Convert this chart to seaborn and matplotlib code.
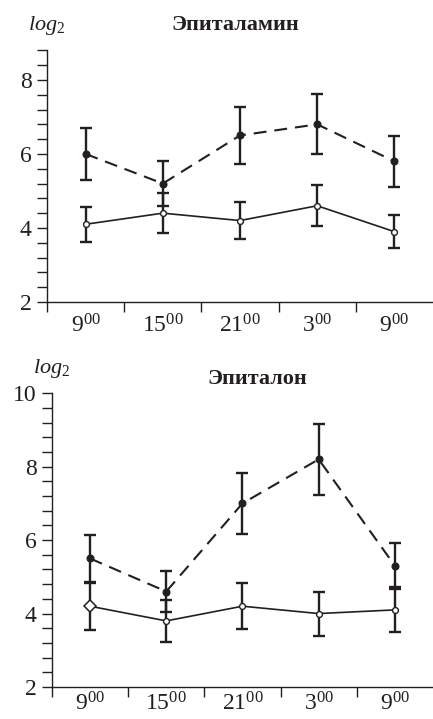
#!/usr/bin/env python3
# epitalamin / epitalon daily log2 profile

import matplotlib
matplotlib.use('Agg')
import matplotlib.pyplot as plt
from matplotlib.ticker import FixedLocator, MultipleLocator, NullFormatter
import numpy as np
import pandas as pd
import seaborn as sns

# Data =========================================================================

times = ['9$^{00}$', '15$^{00}$', '21$^{00}$', '3$^{00}$', '9$^{00}$']

# Эпиталамин
epitalamin_dashed = [6.0, 5.2, 6.5, 6.8, 5.8]
epitalamin_dashed_err = [0.71, 0.6, 0.77, 0.81, 0.69]
epitalamin_solid = [4.1, 4.4, 4.2, 4.6, 3.9]
epitalamin_solid_err = [0.48, 0.54, 0.5, 0.55, 0.45]

# Эпиталон
epitalon_dashed = [5.5, 4.6, 7.0, 8.2, 5.3]
epitalon_dashed_err = [0.65, 0.55, 0.83, 0.97, 0.62]
epitalon_solid = [4.2, 3.8, 4.2, 4.0, 4.1]
epitalon_solid_err = [0.64, 0.58, 0.62, 0.6, 0.61]

INK = '#231f20'


def panel(ax, title, dashed, dashed_err, solid, solid_err, ymax, title_xy,
          log_xy, xpad=9, diamond=False):
    pos = np.arange(len(times))
    df = pd.DataFrame({'pos': pos, 'dashed': dashed, 'solid': solid})

    for y, err in ((dashed, dashed_err), (solid, solid_err)):
        ax.errorbar(pos, y, yerr=err, fmt='none', ecolor=INK,
                    elinewidth=1.7, capsize=4.6, capthick=1.7, zorder=2)

    sns.lineplot(data=df, x='pos', y='dashed', ax=ax, color=INK,
                 linewidth=1.5, marker='o', markersize=5,
                 markerfacecolor=INK, mec=INK, mew=0.8,
                 errorbar=None, zorder=3)
    ax.lines[-1].set_linestyle((0, (6.2, 3.8)))
    sns.lineplot(data=df, x='pos', y='solid', ax=ax, color=INK,
                 linewidth=1.2, marker='o', markersize=4.2,
                 markerfacecolor='white', mec=INK, mew=1.0,
                 errorbar=None, zorder=3)
    if diamond:
        ax.plot(pos[:1], solid[:1], marker='D', markersize=6,
                markerfacecolor='white', markeredgecolor=INK, mew=1.1,
                linestyle='none', zorder=4)

    ax.set_xlim(-0.5, 4.5)
    ax.set_ylim(2, ymax)
    ax.xaxis.set_major_locator(FixedLocator(pos - 0.5))
    ax.xaxis.set_major_formatter(NullFormatter())
    ax.xaxis.set_minor_locator(FixedLocator(pos))
    ax.set_xticklabels(times, minor=True)
    ax.tick_params(axis='x', which='minor', length=0, pad=xpad)
    ax.tick_params(axis='x', which='major', length=7, width=1, color=INK)
    ax.yaxis.set_major_locator(MultipleLocator(2))
    ax.yaxis.set_minor_locator(MultipleLocator(0.4))
    ax.tick_params(axis='y', which='both', length=7, width=1, color=INK,
                   pad=4)
    ax.tick_params(which='both', labelsize=17, labelcolor=INK)
    sns.despine(ax=ax)
    for s in ('left', 'bottom'):
        ax.spines[s].set_color(INK)
        ax.spines[s].set_linewidth(1)
    ax.set_xlabel('')
    ax.set_ylabel('')
    ax.text(*title_xy, title, transform=ax.transAxes, ha='center',
            va='center', fontsize=16, fontweight='bold', color=INK)
    ax.text(*log_xy, r'$\mathit{log}_{\mathit{2}}$', transform=ax.transAxes,
            ha='center', va='center', fontsize=16, color=INK)


def main():
    sns.set_style('ticks')
    plt.rcParams['font.family'] = ['Liberation Serif', 'DejaVu Serif']
    plt.rcParams['mathtext.fontset'] = 'custom'
    plt.rcParams['mathtext.rm'] = 'Liberation Serif'
    plt.rcParams['mathtext.it'] = 'Liberation Serif:italic'

    fig = plt.figure(figsize=(4.33, 7.19), dpi=100)
    ax1 = fig.add_axes([0.1085, 0.580, 0.8915, 0.350])
    ax2 = fig.add_axes([0.120, 0.0445, 0.880, 0.4086])

    panel(ax1, 'Эпиталамин', epitalamin_dashed, epitalamin_dashed_err,
          epitalamin_solid, epitalamin_solid_err, 8.8,
          (0.487, 1.10), (0.0, 1.10))
    panel(ax2, 'Эпиталон', epitalon_dashed, epitalon_dashed_err,
          epitalon_solid, epitalon_solid_err, 10,
          (0.538, 1.05), (0.0, 1.085), xpad=4, diamond=True)

    fig.savefig('out.png', dpi=100)


if __name__ == '__main__':
    main()
